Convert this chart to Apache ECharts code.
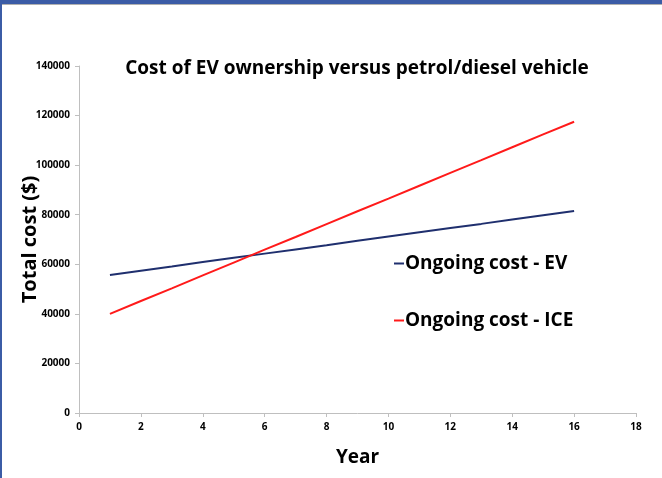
<!DOCTYPE html>
<html>
<head>
<meta charset="utf-8">
<script src="https://cdn.jsdelivr.net/npm/echarts@6/dist/echarts.min.js"></script>
<style>
  html, body { margin: 0; padding: 0; background: #fff; }
  #chart { width: 662px; height: 478px; }
</style>
</head>
<body>
<div id="chart"></div>
<script>
// data
const years = [1, 2, 3, 4, 5, 6, 7, 8, 9, 10, 11, 12, 13, 14, 15, 16];
const evCost = [55700, 57400, 59100, 60900, 62600, 64300, 66000, 67700, 69500, 71200, 72900, 74600, 76300, 78100, 79800, 81500];
const iceCost = [40000, 45200, 50300, 55500, 60700, 65900, 71000, 76200, 81400, 86500, 91700, 96900, 102000, 107200, 112400, 117500];
const seriesNames = ['Ongoing cost - EV', 'Ongoing cost - ICE'];

const font = '"Open Sans", "Liberation Sans", sans-serif';

const chart = echarts.init(document.getElementById('chart'));

chart.setOption({
  animation: false,
  textStyle: { fontFamily: font },
  title: {
    text: 'Cost of EV ownership versus petrol/diesel vehicle',
    left: 352,
    top: 54,
    textAlign: 'center',
    textStyle: { fontFamily: font, fontSize: 19, fontWeight: 'bold', color: '#000' }
  },
  legend: {
    orient: 'vertical',
    left: 389,
    top: 249,
    itemGap: 38,
    itemWidth: 10,
    itemHeight: 2,
    icon: 'rect',
    data: seriesNames,
    textStyle: { fontFamily: font, fontSize: 19, fontWeight: 'bold', color: '#000', padding: [0, 0, 0, -4] }
  },
  grid: { left: 79, right: 26, top: 66, bottom: 65, outerBoundsMode: 'none' },
  xAxis: {
    type: 'value',
    min: 0,
    max: 18,
    interval: 2,
    name: 'Year',
    nameLocation: 'middle',
    nameGap: 35,
    nameMoveOverlap: false,
    nameTextStyle: { fontFamily: font, fontSize: 19, fontWeight: 'bold', color: '#000' },
    axisLine: { lineStyle: { color: '#bfbfbf' } },
    axisTick: { show: true, length: 4, lineStyle: { color: '#bfbfbf' } },
    axisLabel: { fontSize: 10, fontWeight: 'bold', color: '#000', margin: 9 },
    splitLine: { show: false }
  },
  yAxis: {
    type: 'value',
    min: 0,
    max: 140000,
    interval: 20000,
    name: 'Total cost ($)',
    nameLocation: 'middle',
    nameGap: 39,
    nameMoveOverlap: false,
    nameTextStyle: { fontFamily: font, fontSize: 20, fontWeight: 'bold', color: '#000' },
    axisLine: { show: true, lineStyle: { color: '#bfbfbf' } },
    axisTick: { show: true, length: 4, lineStyle: { color: '#bfbfbf' } },
    axisLabel: { fontSize: 10, fontWeight: 'bold', color: '#000', margin: 9, formatter: v => String(v) },
    splitLine: { show: false }
  },
  series: [
    {
      name: seriesNames[0],
      type: 'line',
      data: years.map((y, i) => [y, evCost[i]]),
      showSymbol: false,
      color: '#1f2f6e',
      lineStyle: { width: 2 }
    },
    {
      name: seriesNames[1],
      type: 'line',
      data: years.map((y, i) => [y, iceCost[i]]),
      showSymbol: false,
      color: '#ff1a1a',
      lineStyle: { width: 2 }
    }
  ],
  graphic: [
    // slide frame
    { type: 'rect', left: 0, top: 0, shape: { width: 662, height: 4 }, style: { fill: '#3b5ca6' } },
    { type: 'rect', left: 0, top: 4, shape: { width: 662, height: 1 }, style: { fill: '#b0b0b0' } },
    { type: 'rect', left: 0, top: 0, shape: { width: 2, height: 478 }, style: { fill: '#3b5ca6' } }
  ]
});
</script>
</body>
</html>
